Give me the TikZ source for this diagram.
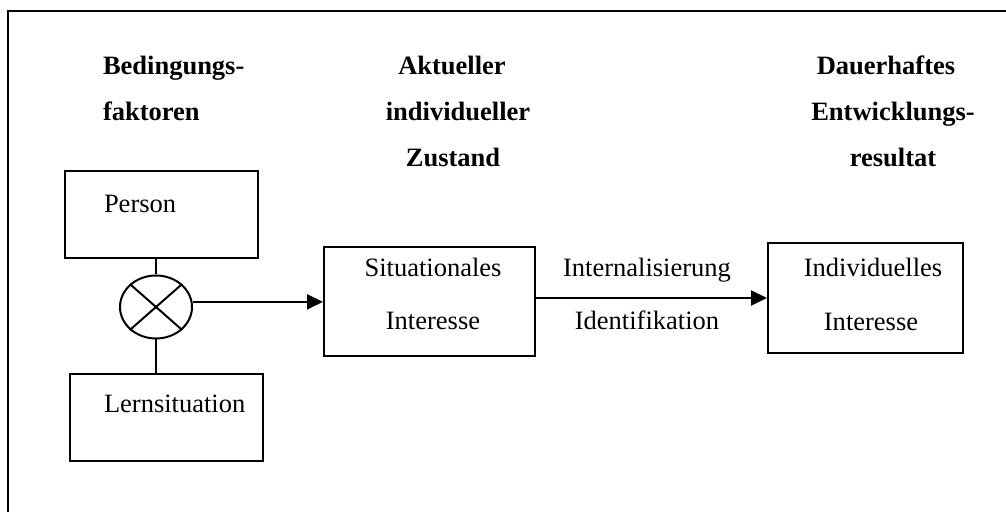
\documentclass[tikz,border=0pt]{standalone}
\usepackage{fontspec}
\setmainfont{Liberation Serif}
\usetikzlibrary{arrows.meta,shapes.geometric}

\begin{document}
\begin{tikzpicture}[x=0.5pt, y=-0.5pt, font=\fontsize{13.25}{26.5}\selectfont, line width=1pt,
	box/.style={draw, rectangle, inner sep=0pt},
	txt/.style={inner sep=0pt, anchor=base},
	head/.style={txt, font=\fontsize{13.25}{26.5}\selectfont\bfseries},
	tip/.style={-{Triangle[length=8pt,width=7.5pt]}}]
	\useasboundingbox (0,0) rectangle (1006,512);
	\draw (1012,11) -- (8,11) -- (8,518);
	\node[head, anchor=base west] (bed1) at (102,75) {Bedingungs-};
	\node[head, anchor=base west] (bed2) at (102,121) {faktoren};
	\node[head] (akt1) at (452,75) {Aktueller};
	\node[head] (akt2) at (458,121) {individueller};
	\node[head] (akt3) at (453,167) {Zustand};
	\node[head] (dau1) at (886,75) {Dauerhaftes};
	\node[head] (dau2) at (893,121) {Entwicklungs-};
	\node[head] (dau3) at (893,167) {resultat};
	\node[box, minimum width=96.5pt, minimum height=43.5pt] (person) at (161.5,214.5) {};
	\node[txt, anchor=base west] (personlbl) at (103,213) {Person};
	\node[box, minimum width=96.5pt, minimum height=43.5pt] (lern) at (166.5,417.5) {};
	\node[txt, anchor=base west] (lernlbl) at (103,413) {Lernsituation};
	\node[draw, ellipse, inner sep=0pt, minimum width=36pt, minimum height=31.5pt] (mix) at (156,307) {};
	\draw (mix.north west) -- (mix.south east);
	\draw (mix.north east) -- (mix.south west);
	\node[box, minimum width=105.5pt, minimum height=54.5pt] (sit) at (429.5,301.5) {};
	\node[txt] (sit1) at (433,277) {Situationales};
	\node[txt] (sit2) at (433,330) {Interesse};
	\node[box, minimum width=97.5pt, minimum height=55pt] (indiv) at (865.5,298) {};
	\node[txt] (indiv1) at (873,277) {Individuelles};
	\node[txt] (indiv2) at (871,331) {Interesse};
	\node[txt] (intern) at (647,277) {Internalisierung};
	\node[txt] (ident) at (647,330) {Identifikation};
	\draw (person.south -| mix.north) -- (mix.north);
	\draw (mix.south) -- (mix.south |- lern.north);
	\draw[tip] (mix.8) -- (mix.8 -| sit.west);
	\draw[tip] (indiv.west -| sit.east) -- (indiv.west);
\end{tikzpicture}
\end{document}
